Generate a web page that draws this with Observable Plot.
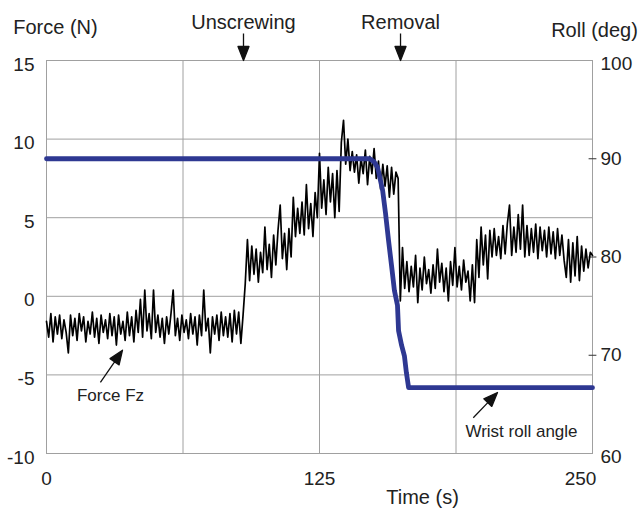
<!DOCTYPE html>
<html><head><meta charset="utf-8">
<script src="https://cdn.jsdelivr.net/npm/d3@7"></script>
<script src="https://cdn.jsdelivr.net/npm/@observablehq/plot@0.6"></script>
<style>html,body{margin:0;padding:0;background:#fff;}</style>
</head><body><div id="chart"></div>
<script>
// Force Fz (N), one sample per second from t = 0 s to 250 s
const forceValues = [
 -1.6,-2.6,-1.1,-2.9,-1.3,-2.4,-1.2,-2.7,-1.5,-2.3,
 -3.6,-1.2,-2.5,-1.4,-2.8,-1.1,-2.2,-1.3,-2.9,-1.6,
 -2.4,-1.0,-2.6,-1.4,-3.0,-1.2,-2.3,-1.5,-2.7,-1.1,
 -2.5,-1.3,-3.1,-1.2,-2.4,-1.6,-2.8,-1.0,-2.5,-1.3,
 -2.9,-0.9,-2.3,-0.2,-2.6,0.4,-2.2,-1.1,-2.7,0.4,
 -2.3,-1.2,-2.6,-1.4,-3.0,-1.3,-2.4,-1.1,0.4,-2.5,
 -1.4,-2.8,-1.2,-2.3,-1.5,-2.7,-1.1,-2.4,-1.3,-3.1,
 -1.2,-2.5,0.4,-2.2,-1.4,-3.6,-1.3,-2.4,-1.2,-2.8,
 -1.0,-2.5,-1.3,-2.6,-1.1,-2.9,-0.9,-2.4,-1.0,-3.0,
 -1.2,0.8,
 3.6,1.0,3.2,1.4,3.0,0.9,2.8,1.5,4.4,1.7,
 3.3,1.2,3.9,2.0,4.2,5.8,2.4,4.0,1.7,4.3,
 2.5,6.3,3.8,5.6,4.0,6.0,3.9,7.1,4.3,5.9,
 3.8,6.6,5.0,9.1,5.6,7.4,5.2,8.2,6.0,7.8,
 5.0,8.0,5.4,9.8,11.2,8.4,10.0,8.0,9.2,7.9,
 9.0,7.2,8.8,7.8,9.3,7.1,8.9,7.8,9.4,7.5,
 8.6,6.8,8.4,7.0,8.3,6.3,8.2,6.5,7.9,7.5,
 -0.3,3.1,0.5,2.2,0.3,1.9,0.6,2.6,-0.4,1.8,
 0.4,2.5,0.8,1.7,0.2,2.0,0.5,3.0,0.9,2.1,
 0.3,1.8,-0.3,2.2,0.7,3.1,0.6,1.9,0.4,2.3,
 0.9,1.6,-0.3,2.0,-0.4,3.6,1.2,4.4,2.0,3.9,
 1.1,4.2,2.5,4.3,2.6,3.8,2.4,4.5,2.7,4.6,
 5.8,2.6,4.4,2.8,5.2,3.0,5.8,2.5,4.5,2.6,
 4.3,2.8,4.6,2.4,4.4,2.9,4.2,2.5,4.4,2.7,
 4.1,2.4,4.3,2.6,3.9,2.3,1.2,3.6,0.9,3.4,
 1.3,3.8,1.0,3.2,1.6,3.0,1.8,2.8,2.6
];
const forceSampleStep = 1; // seconds

// Wrist roll angle (deg)
const rollTime = [0, 148, 150, 151.6, 153.9, 155.2, 156.6, 158.0, 159.3, 160.7, 161.2, 162.6, 163.9, 164.8, 165.8, 250];
const rollDeg  = [90, 90, 89.7, 89.1, 86.8, 84.5, 81.7, 79.1, 76.6, 75.1, 72.5, 71.0, 69.9, 68.2, 66.7, 66.7];

// axes
const xTicksMain = [0, 125];
const xTicksEnd = [250];
const xGrid = [62.5, 125, 187.5];
const forceTicks = [15, 10, 5, 0, -5, -10];
const forceGrid = [10, 5, 0, -5];
const rollTicksOuter = [100, 60];
const rollTicksInner = [90, 80, 70];
const forceDomain = [-10, 15];
const rollDomain = [60, 100];

// annotations
const eventNames = ["Unscrewing", "Removal"];
const eventTimes = [90.2, 162.1];
const fzLabel = ["Force Fz"];
const fzTip = {t: [34.8], f: [-3.43]};
const rollLabel = ["Wrist roll angle"];
const rollTip = {t: [206.5], f: [-6.12]};

// map roll (deg) onto the force axis
const k = (forceDomain[1] - forceDomain[0]) / (rollDomain[1] - rollDomain[0]);
const rollToForce = r => forceDomain[0] + (r - rollDomain[0]) * k;
const forceToRoll = f => String(Math.round(rollDomain[0] + (f - forceDomain[0]) / k));

const forceData = forceValues.map((v, i) => ({t: i * forceSampleStep, f: v}));
const rollData = rollTime.map((t, i) => ({t, f: rollToForce(rollDeg[i])}));

const filledArrow = {
  draw(context, l) {
    const h = 14, w = 5.5;
    context.moveTo(0, 0);
    context.lineTo(0, -l + h);
    context.moveTo(0, -l);
    context.lineTo(-w, -l + h);
    context.lineTo(w, -l + h);
    context.closePath();
  }
};
const tickLine = { draw(context, l) { context.moveTo(0, 0); context.lineTo(0, -l); } };

const font = "Liberation Sans, Arial, Helvetica, sans-serif";
const gridColor = "#a0a0a0";

const chart = Plot.plot({
  width: 640,
  height: 511,
  marginLeft: 46,
  marginRight: 48,
  marginTop: 60,
  marginBottom: 58,
  style: {fontFamily: font, fontSize: "19px", background: "#fff", color: "#222"},
  x: {domain: [0, 250]},
  y: {domain: forceDomain},
  marks: [
    Plot.gridX(xGrid, {stroke: gridColor, strokeOpacity: 1}),
    Plot.gridY(forceGrid, {stroke: gridColor, strokeOpacity: 1}),
    Plot.frame({stroke: gridColor}),
    Plot.axisX(xTicksMain, {tickSize: 0, tickPadding: 18, label: null, fontSize: 19}),
    Plot.axisX(xTicksEnd, {tickSize: 0, tickPadding: 18, dx: -12, label: null, fontSize: 19}),
    Plot.axisY(forceTicks, {anchor: "left", tickSize: 0, tickPadding: 12, dy: 4, label: null, fontSize: 19, tickFormat: d => String(d)}),
    Plot.axisY(rollTicksOuter.map(rollToForce), {anchor: "right", tickSize: 0, tickPadding: 8, dy: 3, tickFormat: forceToRoll, label: null, fontSize: 19}),
    Plot.axisY(rollTicksInner.map(rollToForce), {anchor: "right", tickSize: 0, tickPadding: 8, dy: 0, tickFormat: forceToRoll, label: null, fontSize: 19}),
    Plot.vector(rollTicksInner.map(rollToForce), {y: d => d, frameAnchor: "right", rotate: -90, length: 7, shape: tickLine, stroke: "#333", strokeWidth: 1}),
    Plot.line(forceData, {x: "t", y: "f", stroke: "#000", strokeWidth: 1.7}),
    Plot.line(rollData, {x: "t", y: "f", stroke: "#2e3892", strokeWidth: 4.8, strokeLinejoin: "round"}),
    // top event markers
    Plot.text(eventNames, {x: (d, i) => eventTimes[i], frameAnchor: "top", textAnchor: "middle", dy: -46, fontSize: 20}),
    Plot.vector(eventTimes, {x: d => d, frameAnchor: "top", rotate: 180, anchor: "end", length: 27, shape: filledArrow, stroke: "#111", fill: "#111", strokeWidth: 1.3, strokeLinecap: "butt"}),
    // axis titles
    Plot.text(["Force (N)"], {frameAnchor: "top-left", textAnchor: "middle", dx: 9, dy: -41, fontSize: 20}),
    Plot.text(["Roll (deg)"], {frameAnchor: "top-right", textAnchor: "middle", dx: 2, dy: -38, fontSize: 20}),
    Plot.text(["Time (s)"], {frameAnchor: "bottom", textAnchor: "middle", dx: 103, dy: 50, fontSize: 20}),
    // callouts
    Plot.vector(fzLabel, {x: fzTip.t, y: fzTip.f, rotate: 34.5, anchor: "end", length: 39, shape: filledArrow, stroke: "#111", fill: "#111", strokeWidth: 1.3, strokeLinecap: "butt"}),
    Plot.text(fzLabel, {x: fzTip.t, y: fzTip.f, dx: -12, dy: 45, fontSize: 17}),
    Plot.vector(rollLabel, {x: rollTip.t, y: rollTip.f, rotate: 43.8, anchor: "end", length: 35, shape: filledArrow, stroke: "#111", fill: "#111", strokeWidth: 1.3, strokeLinecap: "butt"}),
    Plot.text(rollLabel, {x: rollTip.t, y: rollTip.f, dx: 24, dy: 39, fontSize: 17})
  ]
});
document.getElementById("chart").appendChild(chart);
</script>
</body></html>
